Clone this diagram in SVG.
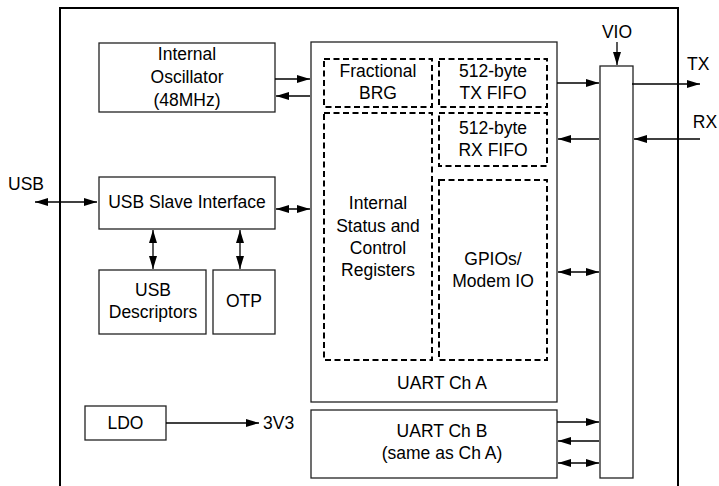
<svg xmlns="http://www.w3.org/2000/svg" width="719" height="486" viewBox="0 0 719 486">
<defs>
<marker id="ah" viewBox="0 0 13 8" refX="13" refY="4" markerWidth="13" markerHeight="8" markerUnits="userSpaceOnUse" orient="auto-start-reverse">
<path d="M0,0 L13,4 L0,8 z" fill="#000"/>
</marker>
<style>
text{font-family:"Liberation Sans",Arial,sans-serif;font-size:17.5px;fill:#000;text-anchor:middle}
.box{fill:#fff;stroke:#222;stroke-width:1.3}
.dash{fill:none;stroke:#000;stroke-width:2;stroke-dasharray:6,3.5}
.c{fill:none;stroke:#000;stroke-width:1.3}
.a{marker-end:url(#ah)}
.d{marker-start:url(#ah);marker-end:url(#ah)}
</style>
</defs>
<rect width="719" height="486" fill="#fff"/>
<rect id="chip" x="60" y="8" width="618" height="490" fill="none" stroke="#000" stroke-width="2"/>

<g id="osc"><rect class="box" x="99" y="43" width="176" height="69"/>
<text x="187" y="60">Internal</text><text x="187" y="83">Oscillator</text><text x="187" y="106">(48MHz)</text></g>

<g id="usbslave"><rect class="box" x="99" y="177" width="176" height="52"/>
<text x="187" y="208">USB Slave Interface</text></g>

<g id="usbdesc"><rect class="box" x="99" y="270" width="107" height="64"/>
<text x="153" y="296">USB</text><text x="153" y="318">Descriptors</text></g>

<g id="otp"><rect class="box" x="213" y="270" width="62" height="64"/>
<text x="244" y="307">OTP</text></g>

<g id="ldo"><rect class="box" x="85" y="406" width="81" height="34"/>
<text x="125.5" y="429">LDO</text></g>

<g id="uarta"><rect class="box" x="311" y="42" width="246" height="360"/>
<text x="442" y="389">UART Ch A</text></g>

<g id="brg"><rect class="dash" x="324" y="59" width="108" height="48"/>
<text x="378" y="77">Fractional</text><text x="378" y="99">BRG</text></g>

<g id="txfifo"><rect class="dash" x="439" y="59" width="108" height="48"/>
<text x="493" y="77">512-byte</text><text x="493" y="99">TX FIFO</text></g>

<g id="rxfifo"><rect class="dash" x="439" y="113" width="108" height="53"/>
<text x="493" y="134">512-byte</text><text x="493" y="156">RX FIFO</text></g>

<g id="regs"><rect class="dash" x="324" y="113" width="108" height="247"/>
<text x="378" y="209">Internal</text><text x="378" y="232">Status and</text><text x="378" y="254">Control</text><text x="378" y="276">Registers</text></g>

<g id="gpio"><rect class="dash" x="439" y="180" width="108" height="180"/>
<text x="493" y="265">GPIOs/</text><text x="493" y="287">Modem IO</text></g>

<g id="uartb"><rect class="box" x="311" y="410" width="246" height="68"/>
<text x="442" y="437">UART Ch B</text><text x="442" y="459">(same as Ch A)</text></g>

<g id="viobar"><rect class="box" x="600" y="66" width="33" height="412"/></g>

<g id="labels">
<text x="26" y="190">USB</text>
<text x="617" y="38">VIO</text>
<text x="698" y="70" style="text-anchor:start" dx="-11">TX</text>
<text x="705" y="128">RX</text>
<text x="263" y="429" style="text-anchor:start">3V3</text>
</g>

<g id="connectors">
<line class="c a" x1="275" y1="79" x2="310" y2="79"/>
<line class="c a" x1="310" y1="96" x2="276" y2="96"/>
<line class="c d" x1="35" y1="202" x2="97" y2="202"/>
<line class="c d" x1="276" y1="209" x2="310" y2="209"/>
<line class="c d" x1="153" y1="230" x2="153" y2="269"/>
<line class="c d" x1="240" y1="230" x2="240" y2="269"/>
<line class="c a" x1="166" y1="423" x2="259" y2="423"/>
<line class="c a" x1="617" y1="42" x2="617" y2="65"/>
<line class="c a" x1="557" y1="83" x2="599" y2="83"/>
<line class="c a" x1="599" y1="139" x2="558" y2="139"/>
<line class="c d" x1="558" y1="272" x2="599" y2="272"/>
<line class="c a" x1="632" y1="84" x2="700" y2="84"/>
<line class="c a" x1="700" y1="139" x2="634" y2="139"/>
<line class="c a" x1="557" y1="422" x2="599" y2="422"/>
<line class="c a" x1="599" y1="441" x2="558" y2="441"/>
<line class="c d" x1="558" y1="463" x2="599" y2="463"/>
</g>
</svg>
